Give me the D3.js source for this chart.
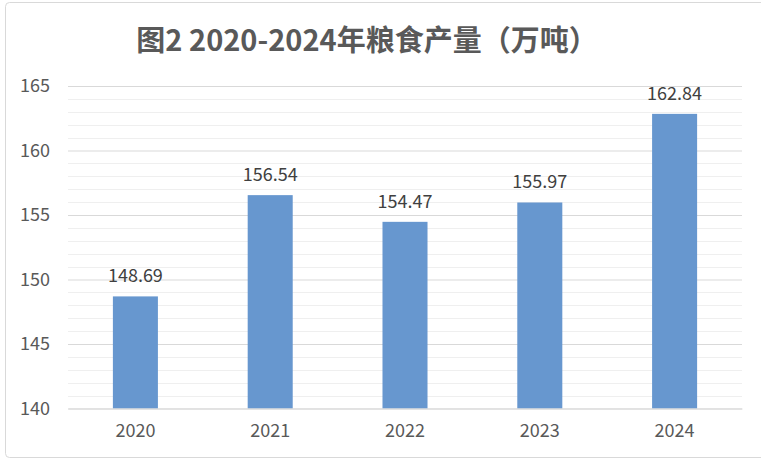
<!DOCTYPE html>
<html>
<head>
<meta charset="utf-8">
<script src="https://cdn.jsdelivr.net/npm/d3@7"></script>
<style>
  body { margin: 0; background: #fff; }
  text { font-family: "Noto Sans CJK SC", "Noto Sans", sans-serif; }
</style>
</head>
<body>
<svg id="chart" width="761" height="463"></svg>
<script>
var years = ["2020", "2021", "2022", "2023", "2024"];
var output = [148.69, 156.54, 154.47, 155.97, 162.84];
var yTicks = [140, 145, 150, 155, 160, 165];
var titleText = "图2 2020-2024年粮食产量（万吨）";

var svg = d3.select("#chart");

// outer frame
svg.append("rect")
    .attr("x", 5.5).attr("y", 2.5)
    .attr("width", 770).attr("height", 455)
    .attr("rx", 4)
    .attr("fill", "#fff")
    .attr("stroke", "#d9d9d9");

var plotLeft = 68, plotRight = 742, plotTop = 86, plotBottom = 408.5;

var x = d3.scaleBand().domain(years).range([plotLeft, plotRight]).paddingInner(0.666).paddingOuter(0.333);
var y = d3.scaleLinear().domain([140, 165]).range([plotBottom, plotTop]);

// minor gridlines
var minor = d3.range(141, 165).filter(function(v) { return v % 5 != 0; });
svg.append("g").selectAll("line").data(minor).enter().append("line")
    .attr("x1", plotLeft).attr("x2", plotRight)
    .attr("y1", function(d) { return Math.round(y(d)) + 0.5; })
    .attr("y2", function(d) { return Math.round(y(d)) + 0.5; })
    .attr("stroke", "#efefef");

// major gridlines + labels via axis
var yAxis = svg.append("g")
    .attr("transform", "translate(" + plotLeft + ",0)")
    .call(d3.axisLeft(y).tickValues(yTicks).tickSize(-(plotRight - plotLeft)).tickPadding(18));
yAxis.select(".domain").remove();
yAxis.selectAll(".tick line").attr("stroke", "#d9d9d9");
yAxis.selectAll(".tick text")
    .attr("fill", "#595959")
    .style("font-size", "18px");

// bars
svg.append("g").selectAll("rect").data(output).enter().append("rect")
    .attr("x", function(d, i) { return x(years[i]); })
    .attr("width", x.bandwidth())
    .attr("y", function(d) { return y(d); })
    .attr("height", function(d) { return y(140) - y(d); })
    .attr("fill", "#6797cf");

// value labels
svg.append("g").selectAll("text").data(output).enter().append("text")
    .attr("x", function(d, i) { return x(years[i]) + x.bandwidth() / 2; })
    .attr("y", function(d) { return y(d) - 14; })
    .attr("text-anchor", "middle")
    .attr("fill", "#404040")
    .style("font-size", "18px")
    .text(function(d) { return d.toFixed(2); });

// x axis
var xAxis = svg.append("g")
    .attr("transform", "translate(0," + plotBottom + ")")
    .call(d3.axisBottom(x).tickSize(0).tickPadding(16));
xAxis.select(".domain").attr("stroke", "#d9d9d9");
xAxis.selectAll(".tick text")
    .attr("fill", "#595959")
    .style("font-size", "18px");

// title
svg.append("text")
    .attr("x", 367).attr("y", 51)
    .attr("text-anchor", "middle")
    .attr("fill", "#595959")
    .style("font-size", "29px")
    .style("font-weight", "bold")
    .text(titleText);
</script>
</body>
</html>
